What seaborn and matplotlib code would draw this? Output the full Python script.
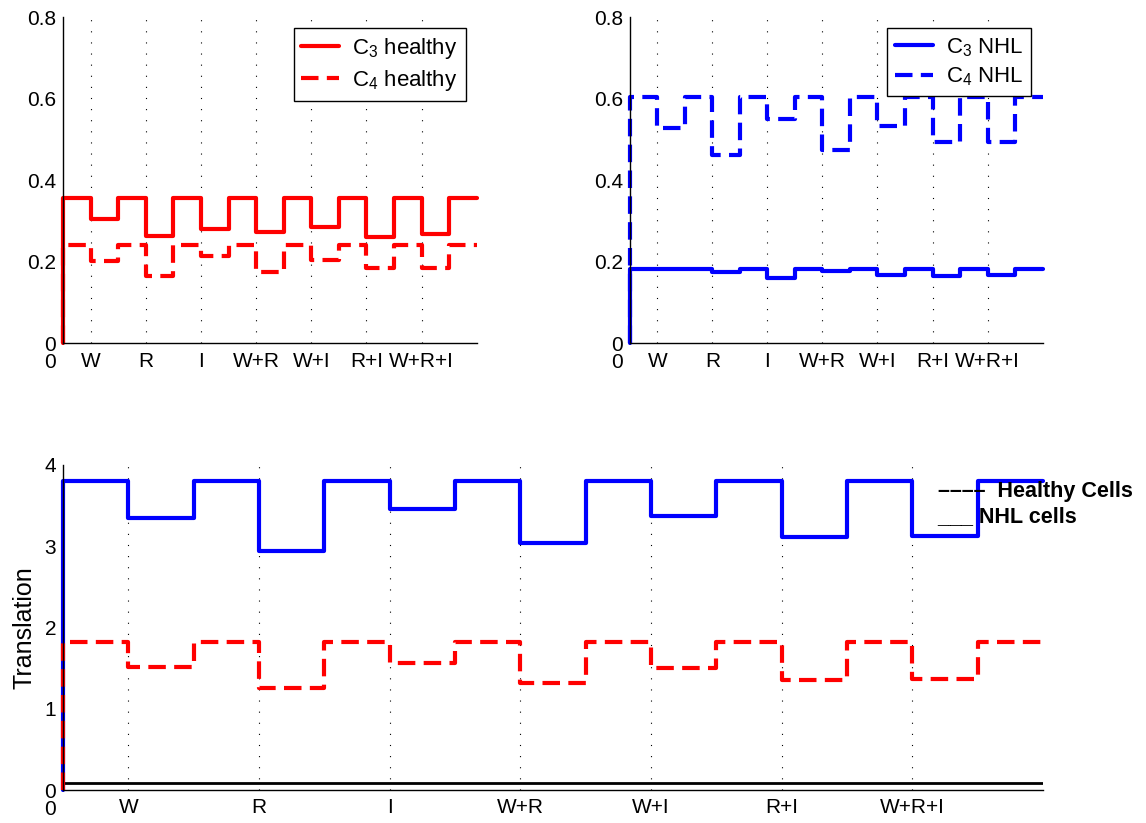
import numpy as np
import pandas as pd
import matplotlib
matplotlib.use("Agg")
import matplotlib.pyplot as plt
import seaborn as sns

# treatment windows (each applied for one time unit)
treatments = ['W', 'R', 'I', 'W+R', 'W+I', 'R+I', 'W+R+I']
treat_on = [1, 3, 5, 7, 9, 11, 13]
t_end = 15

# top left: healthy cells
c3_healthy_base = 0.356
c3_healthy_low = [0.305, 0.264, 0.281, 0.274, 0.286, 0.260, 0.268]
c4_healthy_base = 0.241
c4_healthy_low = [0.201, 0.166, 0.213, 0.174, 0.204, 0.184, 0.185]

# top right: NHL cells
c3_nhl_base = 0.182
c3_nhl_low = [0.181, 0.174, 0.160, 0.177, 0.168, 0.164, 0.168]
c4_nhl_base = 0.604
c4_nhl_low = [0.528, 0.463, 0.550, 0.475, 0.532, 0.493, 0.495]

# bottom: translation
nhl_transl_base = 3.80
nhl_transl_low = [3.35, 2.94, 3.46, 3.04, 3.37, 3.11, 3.13]
healthy_transl_base = 1.82
healthy_transl_low = [1.51, 1.26, 1.56, 1.32, 1.50, 1.35, 1.37]
black_level = 0.09

top_yticks = [0, 0.2, 0.4, 0.6, 0.8]
top_yticklabels = ['0', '0.2', '0.4', '0.6', '0.8']
bottom_yticks = [0, 1, 2, 3, 4]


def step_series(base, lows):
    t = [0, 0]
    v = [0, base]
    for start, low in zip(treat_on, lows):
        t += [start, start, start + 1, start + 1]
        v += [base, low, low, base]
    t.append(t_end)
    v.append(base)
    return pd.DataFrame({'t': t, 'v': v})


sns.set_theme(style='white')
plt.rcParams['font.family'] = ['Liberation Sans', 'DejaVu Sans']
plt.rcParams['mathtext.default'] = 'regular'
plt.rcParams['text.color'] = 'black'
plt.rcParams['axes.labelcolor'] = 'black'
plt.rcParams['xtick.color'] = 'black'
plt.rcParams['ytick.color'] = 'black'

DASH = (0, (4.2, 2.0))

fig = plt.figure(figsize=(11.46, 8.23), dpi=100)
ax1 = fig.add_axes([0.055, 0.583, 0.361, 0.396])
ax2 = fig.add_axes([0.5497, 0.583, 0.360, 0.396])
ax3 = fig.add_axes([0.055, 0.040, 0.855, 0.395])


def style_axes(ax, yticks, yticklabels, ylim):
    ax.set_xlim(0, t_end)
    ax.set_ylim(*ylim)
    ax.set_xticks(treat_on)
    ax.set_xticklabels(treatments)
    ax.set_yticks(yticks)
    ax.set_yticklabels(yticklabels)
    for side in ['top', 'right']:
        ax.spines[side].set_visible(False)
    for side in ['left', 'bottom']:
        ax.spines[side].set_color('black')
        ax.spines[side].set_linewidth(1.0)
    ax.tick_params(axis='both', direction='in', length=5, width=0.8,
                   colors='black', labelcolor='black', labelsize=15)
    ax.tick_params(axis='x', pad=6)
    ax.tick_params(axis='y', pad=5)
    ax.grid(False)
    for x in treat_on:
        ax.axvline(x, color='black', lw=0.8, linestyle=(0, (1, 9)), zorder=0)
    ax.set_xlabel('')
    ax.set_ylabel('')
    ax.annotate('0', xy=(0, 0), xycoords='axes fraction', xytext=(-5, -14),
                textcoords='offset points', ha='right', va='center',
                fontsize=15, color='black')


# top left
sns.lineplot(data=step_series(c3_healthy_base, c3_healthy_low), x='t', y='v',
             estimator=None, sort=False, color='red', lw=3, ax=ax1,
             label='C$_3$ healthy', clip_on=False)
sns.lineplot(data=step_series(c4_healthy_base, c4_healthy_low), x='t', y='v',
             estimator=None, sort=False, color='red', lw=3, linestyle=DASH,
             ax=ax1, label='C$_4$ healthy', clip_on=False)
style_axes(ax1, top_yticks, top_yticklabels, (0, 0.8))
leg = ax1.legend(loc='upper right', fontsize=16, frameon=True, fancybox=False,
                 edgecolor='black', framealpha=1, borderaxespad=0.5,
                 handlelength=1.7, handletextpad=0.6, borderpad=0.35,
                 labelspacing=0.3)
leg.get_frame().set_linewidth(1.0)

# top right
sns.lineplot(data=step_series(c3_nhl_base, c3_nhl_low), x='t', y='v',
             estimator=None, sort=False, color='blue', lw=3, ax=ax2,
             label='C$_3$ NHL', clip_on=False)
sns.lineplot(data=step_series(c4_nhl_base, c4_nhl_low), x='t', y='v',
             estimator=None, sort=False, color='blue', lw=3, linestyle=DASH,
             ax=ax2, label='C$_4$ NHL', clip_on=False)
style_axes(ax2, top_yticks, top_yticklabels, (0, 0.8))
leg = ax2.legend(loc='upper right', fontsize=16, frameon=True, fancybox=False,
                 edgecolor='black', framealpha=1, borderaxespad=0.5,
                 handlelength=1.7, handletextpad=0.6, borderpad=0.35,
                 labelspacing=0.3)
leg.get_frame().set_linewidth(1.0)

# bottom
sns.lineplot(x=[0, t_end], y=[black_level, black_level], color='black', lw=2, ax=ax3)
sns.lineplot(data=step_series(nhl_transl_base, nhl_transl_low), x='t', y='v',
             estimator=None, sort=False, color='blue', lw=3, ax=ax3, clip_on=False)
sns.lineplot(data=step_series(healthy_transl_base, healthy_transl_low), x='t', y='v',
             estimator=None, sort=False, color='red', lw=3, linestyle=DASH,
             ax=ax3, clip_on=False)
style_axes(ax3, bottom_yticks, [str(v) for v in bottom_yticks], (0, 4))
ax3.set_ylabel('Translation', fontsize=18, labelpad=6, color='black')

ax3.text(13.39, 3.68, '\u2013\u2013\u2013\u2013  Healthy Cells', fontsize=15.5,
         fontweight='bold', ha='left', va='center', clip_on=False)
ax3.text(13.39, 3.36, '___ NHL cells', fontsize=15.5, fontweight='bold',
         ha='left', va='center', clip_on=False)

fig.savefig('out.png', dpi=100, facecolor='white')
